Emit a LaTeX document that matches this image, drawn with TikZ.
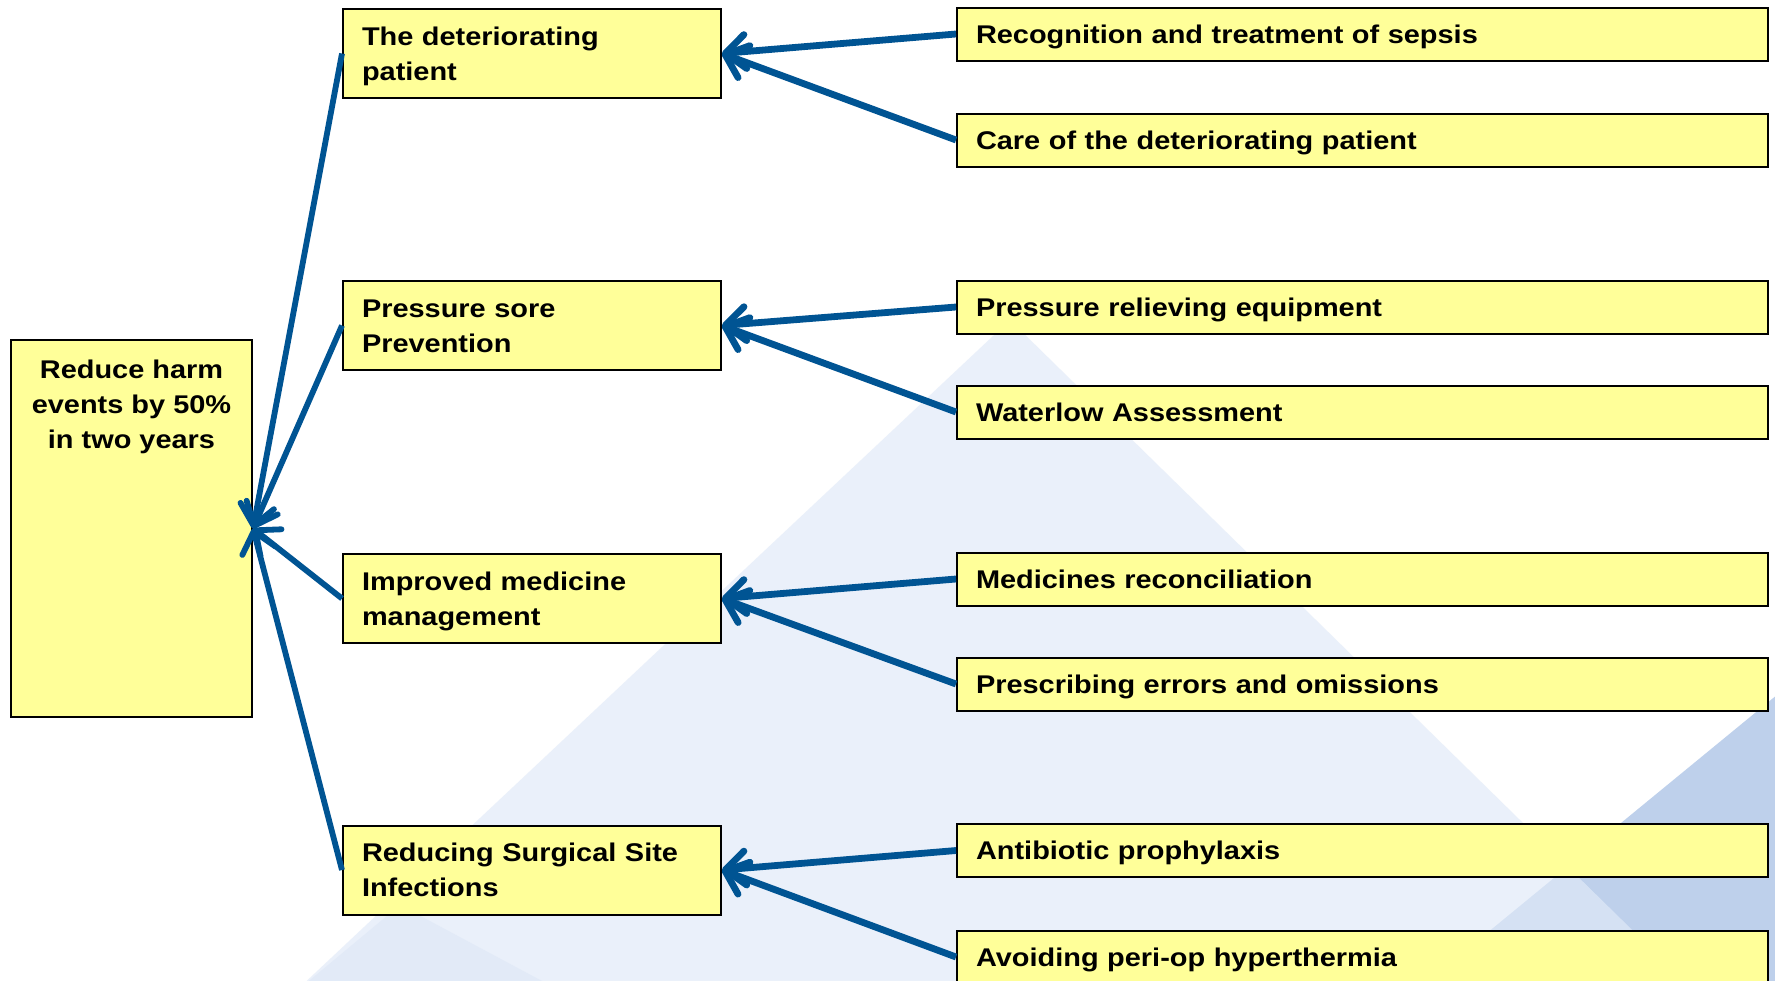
\documentclass[tikz,border=0pt]{standalone}
\usepackage{fontspec}
\setmainfont{Liberation Sans}[FakeStretch=1.13]
\usetikzlibrary{arrows.meta}

\definecolor{boxfill}{RGB}{255,255,153}
\definecolor{linkblue}{RGB}{0,84,147}
\definecolor{palebg}{RGB}{225,234,248}
\definecolor{deepbg}{RGB}{190,208,235}
\definecolor{midbg}{RGB}{214,226,244}

\begin{document}
\begin{tikzpicture}[x=0.5pt,y=-0.5pt,
  box/.style={draw=black, line width=1pt, fill=boxfill, inner xsep=9.5pt,
    inner ysep=0pt, align=left, text height=9.3pt,
    font=\fontsize{12.8}{17.5}\selectfont\bfseries},
  goalbox/.style={draw=black, line width=1pt, fill=boxfill, inner sep=0pt,
    minimum width=120.5pt, minimum height=188.5pt},
  goaltextstyle/.style={align=center, anchor=north, inner sep=0pt,
    font=\fontsize{12.8}{17.5}\selectfont\bfseries},
  midbox/.style={box, text width=170pt, text depth=17.6pt, minimum height=44.5pt},
  subbox/.style={box, text width=386.5pt, text depth=0pt, minimum height=26.5pt},
  tip/.style={-{Straight Barb[length=10pt,width=17pt,round]}},
  link/.style={linkblue, line width=3.4pt, tip},
  feed/.style={linkblue, line width=2.9pt, tip},
]
\useasboundingbox (0,0) rectangle (1775,980);
\begin{scope}
  \clip (0,0) rectangle (1775,980);
  % soft background triangles
  \fill[white] (0,0) rectangle (1775,980);
  \fill[deepbg] (1800,676) -- (1381,1020) -- (1800,1020) -- cycle;
  \fill[palebg, fill opacity=0.68] (1010,320) -- (265,1020) -- (1724,1020) -- cycle;
  \fill[midbg, fill opacity=0.4] (400,905) -- (262,1020) -- (615,1020) -- cycle;
\end{scope}

% goal
\node[goalbox] (goal) at (131.5,528.5) {};
\node[goaltextstyle] (goaltext) at (131.5,360) {Reduce harm\\events by 50\%\\in two years};

% work streams
\node[midbox] (m1) at (532,53.5) {The deteriorating\\patient};
\node[midbox] (m2) at (532,325.5) {Pressure sore\\Prevention};
\node[midbox] (m3) at (532,598.5) {Improved medicine\\management};
\node[midbox] (m4) at (532,870) {Reducing Surgical Site\\Infections};

% projects
\node[subbox] (r1) at (1362.5,34) {Recognition and treatment of sepsis};
\node[subbox] (r2) at (1362.5,140) {Care of the deteriorating patient};
\node[subbox] (r3) at (1362.5,307) {Pressure relieving equipment};
\node[subbox] (r4) at (1362.5,412) {Waterlow Assessment};
\node[subbox] (r5) at (1362.5,579) {Medicines reconciliation};
\node[subbox] (r6) at (1362.5,684) {Prescribing errors and omissions};
\node[subbox] (r7) at (1362.5,850.5) {Antibiotic prophylaxis};
\node[subbox] (r8) at (1362.5,957) {Avoiding peri-op hyperthermia};

% projects feed the work streams
\draw[link] (r1.west) -- (m1.east);
\draw[link] (r2.west) -- (m1.east);
\draw[link] (r3.west) -- (m2.east);
\draw[link] (r4.west) -- (m2.east);
\draw[link] (r5.west) -- (m3.east);
\draw[link] (r6.west) -- (m3.east);
\draw[link] (r7.west) -- (m4.east);
\draw[link] (r8.west) -- (m4.east);

% work streams feed the goal
\draw[feed] (m1.west) -- (goal.east);
\draw[feed] (m2.west) -- (goal.east);
\draw[feed] (m3.west) -- (goal.east);
\draw[feed] (m4.west) -- (goal.east);
\end{tikzpicture}
\end{document}
